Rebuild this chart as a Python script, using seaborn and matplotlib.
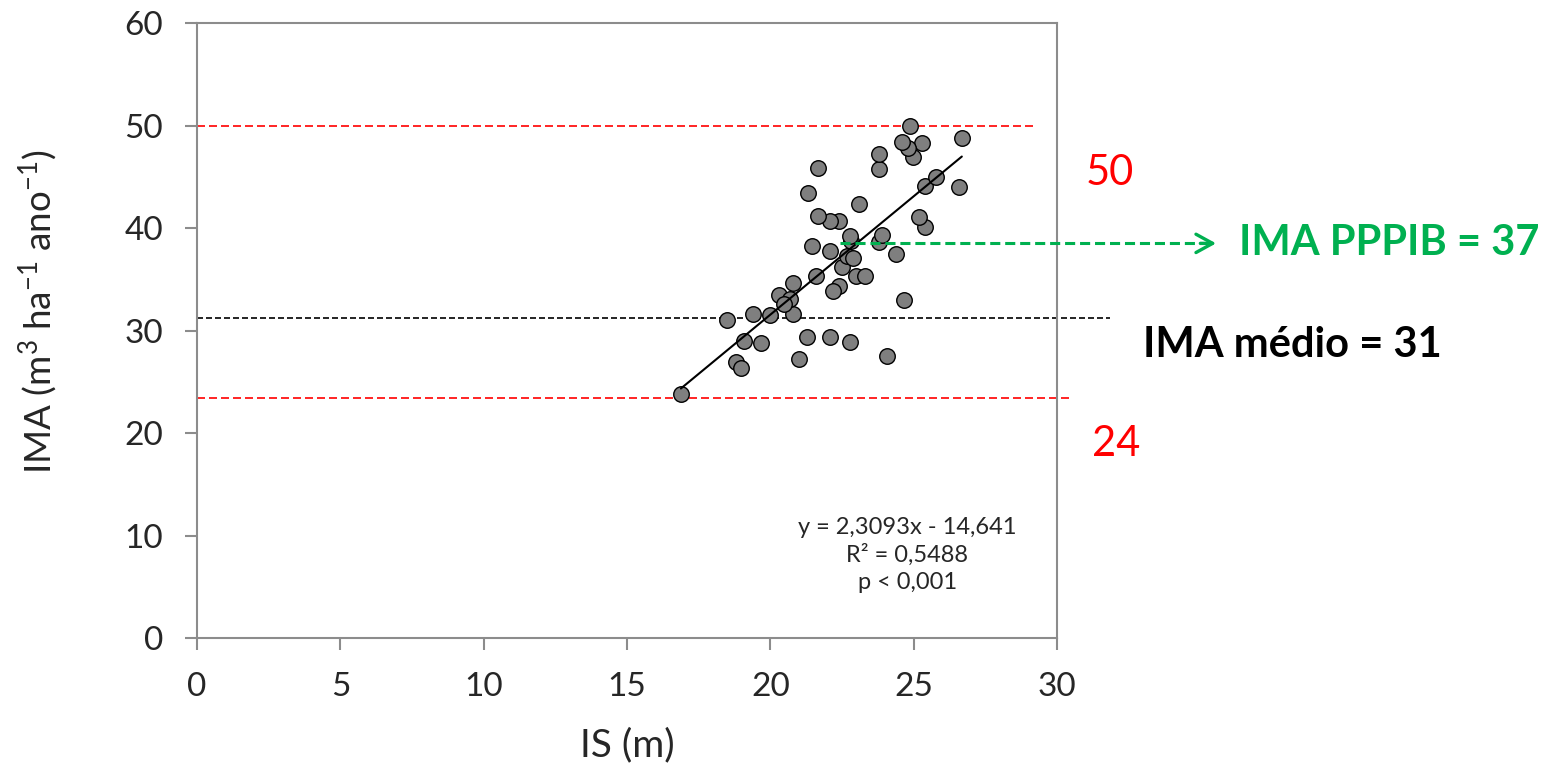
import matplotlib
matplotlib.use("Agg")
import matplotlib.pyplot as plt
import seaborn as sns
import numpy as np
import pandas as pd

# Data
is_m = [16.88, 18.49, 19.38, 19.99, 20.79, 19.09, 19.68, 18.80, 18.98, 20.99,
        21.29, 22.09, 22.78, 24.08, 20.79, 20.29, 20.69, 20.47, 21.59, 22.99,
        23.30, 22.40, 22.18, 22.49, 24.66, 22.66, 22.89, 24.38, 22.09, 21.46,
        22.80, 23.78, 22.79, 23.90, 25.39, 25.19, 22.40, 22.09, 21.68, 23.09,
        21.30, 26.59, 25.39, 25.79, 21.68, 23.79, 23.79, 24.98, 25.29, 24.79,
        24.58, 26.68, 24.88]
ima = [23.8, 31.0, 31.6, 31.5, 31.6, 29.0, 28.8, 26.9, 26.3, 27.2,
       29.4, 29.4, 28.9, 27.5, 34.6, 33.5, 33.1, 32.6, 35.3, 35.3,
       35.3, 34.3, 33.9, 36.2, 33.0, 37.3, 37.1, 37.5, 37.8, 38.2,
       38.7, 38.6, 39.2, 39.3, 40.1, 41.1, 40.7, 40.7, 41.2, 42.3,
       43.4, 44.0, 44.1, 45.0, 45.9, 45.8, 47.2, 46.9, 48.3, 47.8,
       48.4, 48.8, 50.0]
slope, intercept = 2.3093, -14.641
ima_max, ima_min = 50, 23.4
ima_medio = 31.2
ima_pppib = 38.5

x_ticks = [0, 5, 10, 15, 20, 25, 30]
y_ticks = [0, 10, 20, 30, 40, 50, 60]

df = pd.DataFrame({"IS": is_m, "IMA": ima})

sns.set_theme(style="white")
plt.rcParams['font.family'] = ['Lato', 'DejaVu Sans']
plt.rcParams['mathtext.fontset'] = 'custom'
plt.rcParams['mathtext.rm'] = 'Lato'
plt.rcParams['mathtext.it'] = 'Lato'

fig = plt.figure(figsize=(15.58, 7.66), dpi=100)
ax = fig.add_axes([197/1558, 1-638/766, (1057-197)/1558, (638-23)/766])

sns.scatterplot(data=df, x="IS", y="IMA", ax=ax, s=125, color="#7f7f7f",
                edgecolor="black", linewidth=1.0, zorder=3)

xl = np.array([min(is_m), max(is_m)])
line_df = pd.DataFrame({"IS": xl, "IMA": slope * xl + intercept})
sns.lineplot(data=line_df, x="IS", y="IMA", ax=ax, color="black", lw=1.5, zorder=4)

ax.plot([0, 29.15], [ima_max, ima_max], ls=(0, (4.8, 2.4)), color="red", lw=1.2, clip_on=False, zorder=2)
ax.plot([0, 30.5], [ima_min, ima_min], ls=(0, (4.8, 2.4)), color="red", lw=1.2, clip_on=False, zorder=2)
ax.plot([0, 31.85], [ima_medio, ima_medio], ls=(0, (3.6, 1.8)), color="black", lw=1.2, clip_on=False, zorder=2)

green = "#00b050"
ax.plot([22.43, 35.3], [ima_pppib, ima_pppib], ls=(0, (3.3, 1.6)), color=green, lw=2.2,
        clip_on=False, zorder=5)
ax.annotate("", xy=(35.55, ima_pppib), xytext=(35.0, ima_pppib),
            arrowprops=dict(arrowstyle="->,head_length=1.0,head_width=0.55", color=green, lw=2.4,
                            shrinkA=0, shrinkB=0),
            annotation_clip=False, zorder=5)

ax.text(31.85, 44.2, "50", color="red", fontsize=30, ha="center", va="baseline")
ax.text(32.05, 17.76, "24", color="red", fontsize=30, ha="center", va="baseline")
ax.text(41.58, 37.37, "IMA PPPIB = 37", color=green, fontsize=30, fontweight="bold",
        ha="center", va="baseline")
ax.text(38.2, 27.41, "IMA médio = 31", color="black", fontsize=30, fontweight="bold",
        ha="center", va="baseline")
ax.text(24.77, 8.1, "y = 2,3093x - 14,641\nR² = 0,5488\np < 0,001", fontsize=17,
        ha="center", va="center", linespacing=1.35)

ax.set_xlim(0, 30)
ax.set_ylim(0, 60)
ax.set_xticks(x_ticks)
ax.set_yticks(y_ticks)
ax.tick_params(axis="both", labelsize=24, length=8.6, width=1.5, color="#8c8c8c",
               direction="out", bottom=True, left=True, pad=16)
for sp in ax.spines.values():
    sp.set_color("#8c8c8c")
    sp.set_linewidth(1.5)

ax.set_xlabel("IS (m)", fontsize=28)
ax.set_ylabel(r"IMA (m$^3$ ha$^{-1}$ ano$^{-1}$)", fontsize=26.5)
ax.xaxis.label.set_va("center")
ax.yaxis.label.set_va("center")
ax.xaxis.set_label_coords(0.5, (638-745)/615)
ax.yaxis.set_label_coords((38-197)/860, 0.53)

fig.savefig("out.png", dpi=100)
